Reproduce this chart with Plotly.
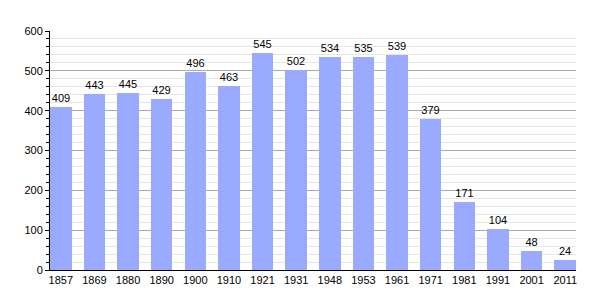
import plotly.graph_objects as go

years = ["1857", "1869", "1880", "1890", "1900", "1910", "1921", "1931", "1948",
         "1953", "1961", "1971", "1981", "1991", "2001", "2011"]
population = [409, 443, 445, 429, 496, 463, 545, 502, 534, 535, 539, 379, 171, 104, 48, 24]

fig = go.Figure(go.Bar(
    x=list(range(len(years))), y=population,
    width=0.64,
    marker=dict(color="#99aaff", line=dict(width=0)),
    text=[str(v) for v in population], textposition="outside",
    textfont=dict(family="Liberation Sans, Arial", size=11, color="black"),
    cliponaxis=False,
))

fig.update_layout(
    width=605, height=300,
    margin=dict(l=50, r=29, t=31, b=30),
    plot_bgcolor="white", paper_bgcolor="white",
    showlegend=False,
    font=dict(family="Liberation Sans, Arial", size=11, color="black"),
    bargap=0,
)
fig.update_xaxes(
    range=[-0.32, len(years) - 0.68],
    tickmode="array", tickvals=list(range(len(years))), ticktext=years,
    showgrid=False, showline=True, linecolor="black", linewidth=1,
    ticks="", zeroline=False,
)
fig.update_yaxes(
    range=[0, 600], dtick=100,
    showgrid=True, gridcolor="#aaaaaa", gridwidth=1,
    minor=dict(dtick=20, showgrid=True, gridcolor="#e6e6e6", ticks="outside", ticklen=3, tickcolor="black"),
    ticks="outside", ticklen=4, tickcolor="black",
    showline=True, linecolor="black", linewidth=1, zeroline=False,
)

fig.write_html("out.html")
